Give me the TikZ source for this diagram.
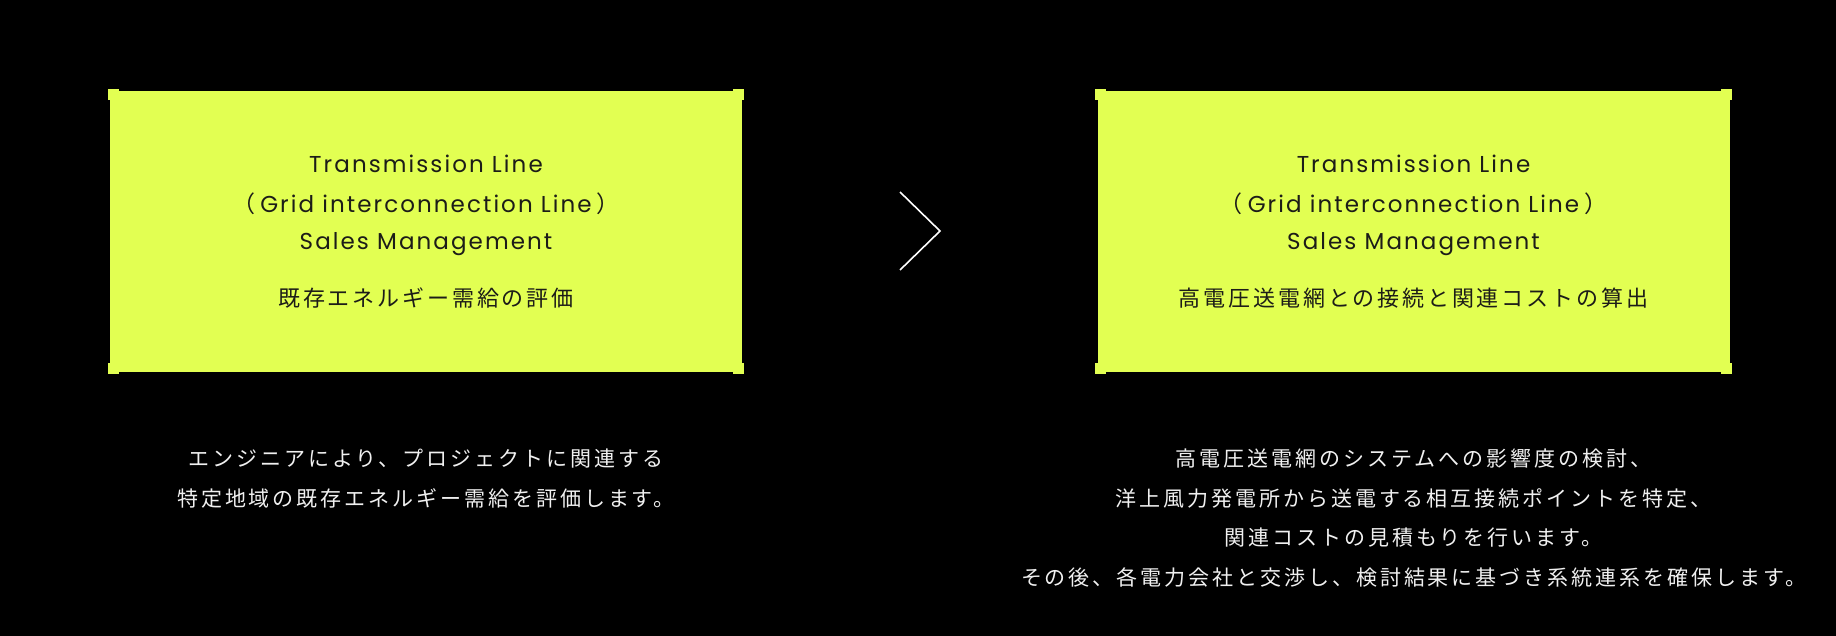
\documentclass[tikz,border=0pt]{standalone}
\usepackage{fontspec}
\setmainfont{Poppins}[LetterSpace=9.0]
\newfontfamily\jp{Noto Sans CJK JP}[LetterSpace=13.0]
\newfontfamily\jpb{Noto Sans CJK JP}[LetterSpace=14.0]
\newfontfamily\jpp{Noto Sans CJK JP}
\definecolor{lime}{RGB}{226,255,82}
\definecolor{ink}{RGB}{28,28,24}
\definecolor{paper}{RGB}{240,240,240}
\begin{document}
\begin{tikzpicture}[x=1pt,y=-1pt,
  card/.style={fill=lime,draw=none,minimum width=632pt,minimum height=281pt,inner sep=0pt,rectangle},
  entext/.style={text=ink,font=\fontsize{23}{27}\selectfont,inner sep=0pt,anchor=center},
  jptext/.style={text=ink,font=\jp\fontsize{22}{26}\selectfont,inner sep=0pt,anchor=center},
  bodytext/.style={text=paper,font=\jpb\fontsize{21}{25}\selectfont,inner sep=0pt,anchor=center},
  corner/.style={fill=lime,draw=none},
  chevron/.style={draw=white,line width=1.6pt,line join=miter}]
\fill[black] (0,0) rectangle (1836,636);
\useasboundingbox (0,0) rectangle (1836,636);
% cards
\node[card] (boxL) at (426,231.5) {};
\node[card] (boxR) at (1413.5,231.5) {};
\foreach \b in {boxL,boxR}{
  \fill[corner] ([shift={(-2,-2)}]\b.north west) rectangle ([shift={(9,9)}]\b.north west);
  \fill[corner] ([shift={(2,-2)}]\b.north east) rectangle ([shift={(-9,9)}]\b.north east);
  \fill[corner] ([shift={(-2,2)}]\b.south west) rectangle ([shift={(9,-9)}]\b.south west);
  \fill[corner] ([shift={(2,2)}]\b.south east) rectangle ([shift={(-9,-9)}]\b.south east);
}
% left card text
\node[entext] (l1) at (426,164) {Transmission Line};
\node[entext] (l2) at (426,204) {{\jpp （}\hspace{5pt}Grid interconnection Line\hspace{5pt}{\jpp ）}};
\node[entext] (l3) at (426,244) {Sales Management};
\node[jptext] (l4) at (426,298) {既存エネルギー需給の評価};
% right card text
\node[entext] (r1) at (1413.5,164) {Transmission Line};
\node[entext] (r2) at (1413.5,204) {{\jpp （}\hspace{5pt}Grid interconnection Line\hspace{5pt}{\jpp ）}};
\node[entext] (r3) at (1413.5,244) {Sales Management};
\node[jptext] (r4) at (1413.5,298) {高電圧送電網との接続と関連コストの算出};
% chevron
\coordinate (c1) at (900,192);
\coordinate (c2) at (940,231);
\coordinate (c3) at (900,270);
\draw[chevron] (c1) -- (c2) -- (c3);
% body text left
\node[bodytext] (lb1) at (426,459) {エンジニアにより、プロジェクトに関連する};
\node[bodytext] (lb2) at (426,498) {特定地域の既存エネルギー需給を評価します。};
% body text right
\node[bodytext] (rb1) at (1413.5,459) {高電圧送電網のシステムへの影響度の検討、};
\node[bodytext] (rb2) at (1413.5,498) {洋上風力発電所から送電する相互接続ポイントを特定、};
\node[bodytext] (rb3) at (1413.5,538) {関連コストの見積もりを行います。};
\node[bodytext] (rb4) at (1413.5,577) {その後、各電力会社と交渉し、検討結果に基づき系統連系を確保します。};
\end{tikzpicture}
\end{document}
